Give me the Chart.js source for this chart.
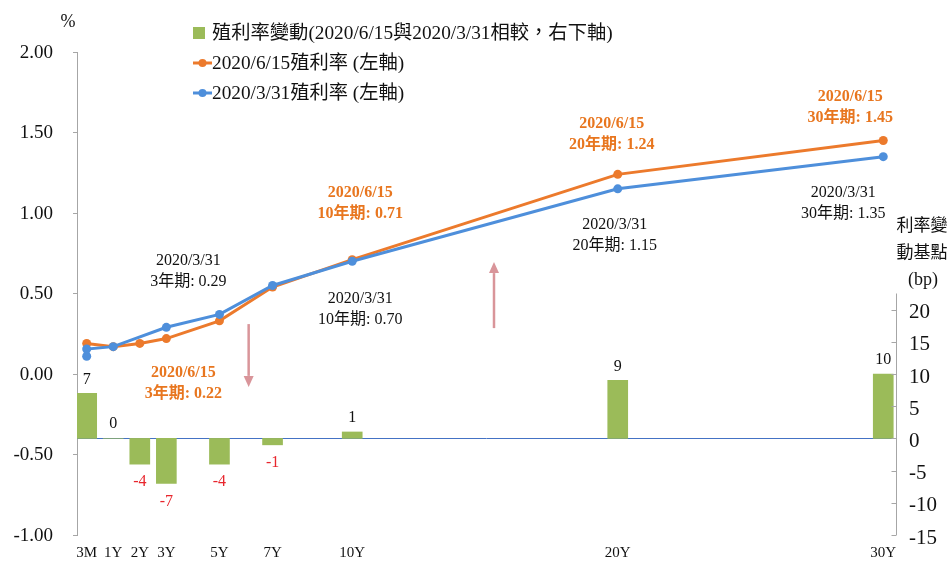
<!DOCTYPE html>
<html lang="zh-Hant">
<head>
<meta charset="UTF-8">
<title>殖利率曲線</title>
<script src="https://cdn.jsdelivr.net/npm/chart.js"></script>
<style>
  html, body { margin: 0; padding: 0; background: #fff; }
  #wrap { width: 949px; height: 562px; position: relative; }
</style>
</head>
<body>
<div id="wrap"><canvas id="yieldChart"></canvas></div>
<script>
// tenors: position on the axis (years) and the label shown
var maturities = [0, 1, 2, 3, 5, 7, 10, 20, 30];
var tenorLabels = ['3M', '1Y', '2Y', '3Y', '5Y', '7Y', '10Y', '20Y', '30Y'];

var dateJun = '2020/6/15';
var dateMar = '2020/3/31';

// yields (%), left axis
var yieldJun15 = [0.19, 0.17, 0.19, 0.22, 0.33, 0.54, 0.71, 1.24, 1.45];
var yieldMar31 = [0.155, 0.17, null, 0.29, 0.37, 0.55, 0.70, 1.15, 1.35];
var yieldMar31Extra3M = 0.11; // the source draws a second 3M dot

// change in basis points, right axis
var changeBp = [7, 0, -4, -7, -4, -1, 1, 9, 10];

var seriesNames = [
    '殖利率變動(' + dateJun + '與' + dateMar + '相較，右下軸)',
    dateJun + '殖利率 (左軸)',
    dateMar + '殖利率 (左軸)'
];

var GREEN = '#9BBB59';
var ORANGE = '#EC7A2C';
var BLUE = '#4E8FDB';
var ORANGE_TEXT = '#E8761F';
var RED_TEXT = '#E8262D';
var ARROW = '#D9959A';
var AXIS = '#A6A6A6';
var SERIF = '"Liberation Serif", "Times New Roman", "Noto Sans CJK TC", serif';
var CJK = '"Noto Sans CJK TC", sans-serif';

function font(size, bold) {
    return (bold ? 'bold ' : '') + size + 'px ' + SERIF;
}

// callouts next to points: which series / tenor, plus pixel offset of the text
var callouts = [
    { series: 'mar', idx: 3, dx: 22, dy: -67 },
    { series: 'jun', idx: 3, dx: 17, dy: 34 },
    { series: 'jun', idx: 6, dx: 8, dy: -67 },
    { series: 'mar', idx: 6, dx: 8, dy: 37 },
    { series: 'jun', idx: 7, dx: -6, dy: -51 },
    { series: 'mar', idx: 7, dx: -3, dy: 36 },
    { series: 'jun', idx: 8, dx: -33, dy: -44 },
    { series: 'mar', idx: 8, dx: -40, dy: 36 }
];

// arrows (x in years, from/to in % on left axis)
var arrows = [
    { x: 6.1, from: 0.31, to: -0.08 },
    { x: 15.34, from: 0.285, to: 0.695 }
];

function drawArrow(ctx, x, y1, y2) {
    var dir = y2 > y1 ? 1 : -1;
    var headLen = 11;
    ctx.save();
    ctx.strokeStyle = ARROW;
    ctx.fillStyle = ARROW;
    ctx.lineWidth = 2.5;
    ctx.beginPath();
    ctx.moveTo(x, y1);
    ctx.lineTo(x, y2 - dir * headLen);
    ctx.stroke();
    ctx.beginPath();
    ctx.moveTo(x, y2);
    ctx.lineTo(x - 5, y2 - dir * headLen);
    ctx.lineTo(x + 5, y2 - dir * headLen);
    ctx.closePath();
    ctx.fill();
    ctx.restore();
}

// keep axis label overflow from shrinking the plot area
function fixWidth(w) {
    return function (s) {
        s.width = w;
        s.paddingTop = 0;
        s.paddingBottom = 0;
    };
}

var extrasPlugin = {
    id: 'extras',
    beforeDatasetsDraw: function (chart) {
        var ctx = chart.ctx;
        var area = chart.chartArea;
        var y0 = Math.round(chart.scales.y2.getPixelForValue(0)) + 0.5;
        ctx.save();
        ctx.strokeStyle = '#4472C4';
        ctx.lineWidth = 1;
        ctx.beginPath();
        ctx.moveTo(area.left, y0);
        ctx.lineTo(area.right, y0);
        ctx.stroke();
        ctx.restore();
    },
    afterDraw: function (chart) {
        var ctx = chart.ctx;
        var area = chart.chartArea;
        var xs = chart.scales.x;
        var ys = chart.scales.y;
        var y2 = chart.scales.y2;

        ctx.save();

        // right axis line, only over the visible bp range, ticks inward
        var rx = Math.round(area.right) + 0.5;
        ctx.strokeStyle = AXIS;
        ctx.lineWidth = 1;
        ctx.beginPath();
        ctx.moveTo(rx, y2.getPixelForValue(22.5));
        ctx.lineTo(rx, area.bottom);
        y2.ticks.forEach(function (t) {
            var ty = Math.round(y2.getPixelForValue(t.value)) + 0.5;
            ctx.moveTo(rx - 5, ty);
            ctx.lineTo(rx, ty);
        });
        ctx.stroke();

        // bar value labels
        var barMeta = chart.getDatasetMeta(0);
        ctx.font = font(16);
        ctx.textAlign = 'center';
        ctx.textBaseline = 'middle';
        barMeta.data.forEach(function (el, i) {
            var v = changeBp[i];
            var ty;
            if (v > 0) ty = el.y - 14;
            else if (v < 0) ty = el.y + 18;
            else ty = el.base - 15;
            ctx.fillStyle = v < 0 ? RED_TEXT : '#111';
            ctx.fillText(String(v), el.x, ty);
        });

        // callouts
        callouts.forEach(function (c) {
            var isJun = c.series === 'jun';
            var val = isJun ? yieldJun15[c.idx] : yieldMar31[c.idx];
            var px = xs.getPixelForValue(maturities[c.idx]) + c.dx;
            var py = ys.getPixelForValue(val) + c.dy;
            ctx.font = font(16, isJun);
            ctx.fillStyle = isJun ? ORANGE_TEXT : '#111';
            ctx.fillText(isJun ? dateJun : dateMar, px, py);
            ctx.fillText(maturities[c.idx] + '年期: ' + val.toFixed(2), px, py + 21);
        });

        arrows.forEach(function (a) {
            drawArrow(ctx, xs.getPixelForValue(a.x), ys.getPixelForValue(a.from), ys.getPixelForValue(a.to));
        });

        // left axis unit
        ctx.fillStyle = '#111';
        ctx.font = font(18);
        ctx.fillText('%', 68, 22);

        // right axis title
        ctx.font = '17px ' + CJK;
        ctx.fillText('利率變', 922, 225);
        ctx.fillText('動基點', 922, 252);
        ctx.font = font(18);
        ctx.fillText('(bp)', 923, 280);

        // legend
        var lx = 193;
        var rows = [33, 63, 93];
        ctx.textAlign = 'left';
        ctx.font = font(19.3);
        ctx.fillStyle = GREEN;
        ctx.fillRect(lx, rows[0] - 6, 12, 12);
        [ORANGE, BLUE].forEach(function (col, k) {
            var ry = rows[k + 1];
            ctx.strokeStyle = col;
            ctx.fillStyle = col;
            ctx.lineWidth = 3;
            ctx.beginPath();
            ctx.moveTo(lx, ry);
            ctx.lineTo(lx + 19, ry);
            ctx.stroke();
            ctx.beginPath();
            ctx.arc(lx + 9.5, ry, 4, 0, Math.PI * 2);
            ctx.fill();
        });
        ctx.fillStyle = '#111';
        seriesNames.forEach(function (name, k) {
            ctx.fillText(name, lx + 19, rows[k] + 1);
        });

        ctx.restore();
    }
};

var barData = maturities.map(function (m, i) { return { x: m, y: changeBp[i] }; });
var junData = maturities.map(function (m, i) { return { x: m, y: yieldJun15[i] }; });
var marData = [{ x: maturities[0], y: yieldMar31Extra3M }].concat(
    maturities.map(function (m, i) { return { x: m, y: yieldMar31[i] }; })
);

var ctx = document.getElementById('yieldChart').getContext('2d');
var yieldChart = new Chart(ctx, {
    type: 'line',
    data: {
        datasets: [{
            type: 'bar',
            label: seriesNames[0],
            data: barData,
            yAxisID: 'y2',
            backgroundColor: GREEN,
            barThickness: 20,
            order: 3
        }, {
            label: seriesNames[1],
            data: junData,
            yAxisID: 'y',
            borderColor: ORANGE,
            backgroundColor: ORANGE,
            borderWidth: 3,
            pointRadius: 4.5,
            pointBorderWidth: 0,
            tension: 0,
            order: 2
        }, {
            label: seriesNames[2],
            data: marData,
            yAxisID: 'y',
            borderColor: BLUE,
            backgroundColor: BLUE,
            borderWidth: 3,
            pointRadius: 4.5,
            pointBorderWidth: 0,
            spanGaps: true,
            tension: 0,
            order: 1
        }]
    },
    options: {
        responsive: true,
        maintainAspectRatio: false,
        animation: false,
        layout: { autoPadding: false, padding: { top: 52, left: 0, right: 0, bottom: 0 } },
        plugins: {
            legend: { display: false },
            tooltip: { enabled: false }
        },
        scales: {
            x: {
                type: 'linear',
                min: -0.365,
                max: 30.48,
                offset: false,
                afterFit: function (s) { s.height = 27; },
                afterBuildTicks: function (s) {
                    s.ticks = maturities.map(function (v) { return { value: v }; });
                },
                ticks: {
                    autoSkip: false,
                    maxRotation: 0,
                    padding: 9,
                    color: '#111',
                    font: { family: SERIF, size: 15 },
                    callback: function (v) { return tenorLabels[maturities.indexOf(v)]; }
                },
                grid: { display: false, drawTicks: false },
                border: { display: false }
            },
            y: {
                position: 'left',
                min: -1,
                max: 2,
                afterFit: fixWidth(77),
                ticks: {
                    stepSize: 0.5,
                    padding: 20,
                    labelOffset: 1,
                    color: '#111',
                    font: { family: SERIF, size: 19 },
                    callback: function (v) { return v.toFixed(2); }
                },
                grid: { drawOnChartArea: false, drawTicks: true, tickLength: 4, color: AXIS },
                border: { color: AXIS, width: 1 }
            },
            y2: {
                position: 'right',
                min: -15,
                max: 60,
                afterFit: fixWidth(53),
                afterBuildTicks: function (s) {
                    s.ticks = s.ticks.filter(function (t) { return t.value <= 20; });
                },
                ticks: {
                    stepSize: 5,
                    padding: 13,
                    labelOffset: 3,
                    color: '#111',
                    font: { family: SERIF, size: 21 }
                },
                grid: { display: false, drawTicks: false, tickLength: 0 },
                border: { display: false }
            }
        }
    },
    plugins: [extrasPlugin]
});
</script>
</body>
</html>
